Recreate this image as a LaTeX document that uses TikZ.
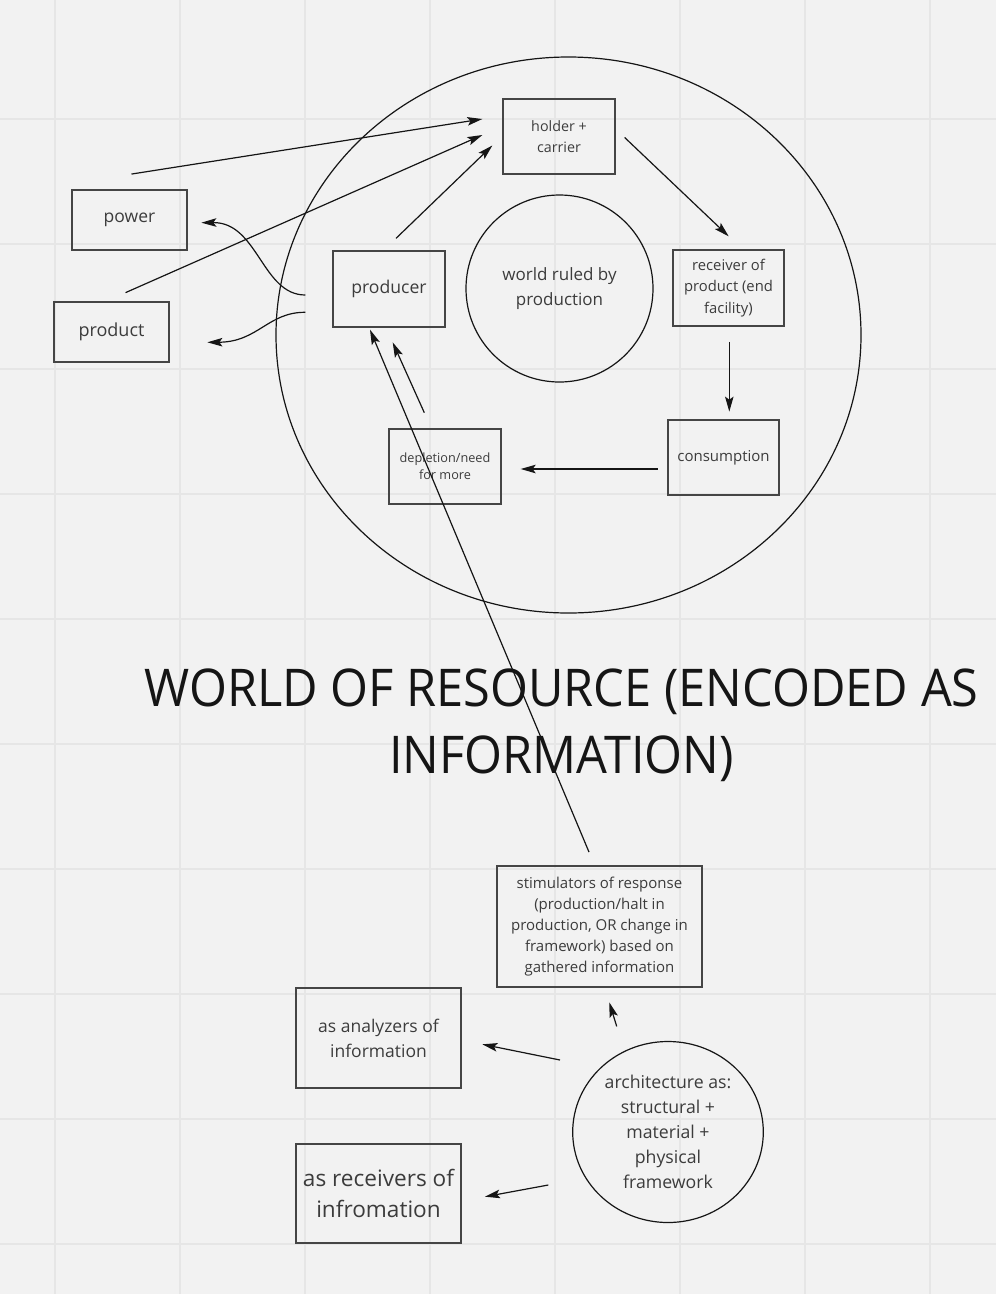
\documentclass[tikz,border=0pt]{standalone}
\usepackage{fontspec}
\setmainfont{Open Sans}
\usetikzlibrary{arrows.meta,shapes.geometric}
\definecolor{bg}{HTML}{F2F2F2}
\definecolor{gridc}{HTML}{E6E6E6}
\definecolor{txt}{HTML}{3C3C3C}
\definecolor{edge}{HTML}{454545}
\definecolor{ink}{HTML}{151515}
\begin{document}
\begin{tikzpicture}[x=1pt,y=-1pt,
  box/.style={draw=edge,line width=1.3pt,inner sep=0pt,align=center,text=txt},
  roundbox/.style={draw=ink,line width=1.2pt,inner sep=0pt,align=center,text=txt,ellipse},
  arr/.style={draw=ink,line width=1.2pt,-{Stealth[length=15pt,width=8.5pt,inset=3pt]}}]
\fill[bg] (0,0) rectangle (996,1294);
\useasboundingbox (0,0) rectangle (996,1294);
\foreach \x in {55,180,...,930} \draw[gridc,line width=1.3pt] (\x,0) -- (\x,1294);
\foreach \y in {119,244,...,1244} \draw[gridc,line width=1.3pt] (0,\y) -- (996,\y);

% big world ellipse and inner circle
\node[roundbox,minimum width=585pt,minimum height=556pt] (world) at (568.5,335) {};
\node[roundbox,minimum width=187pt,minimum height=187pt,font=\fontsize{17}{25}\selectfont] (ruled) at (559.5,288.5) {world ruled by\\production};

% boxes in the cycle
\node[box,minimum width=112pt,minimum height=75pt,font=\fontsize{14.3}{21}\selectfont] (holder) at (559,136.5) {holder +\\carrier};
\node[box,minimum width=111pt,minimum height=76pt,font=\fontsize{14.8}{21.5}\selectfont] (receiver) at (728.5,288) {receiver of\\product (end\\facility)};
\node[box,minimum width=111pt,minimum height=75pt,font=\fontsize{15}{21}\selectfont] (consumption) at (723.5,457.5) {consumption};
\node[box,minimum width=112pt,minimum height=75pt,font=\fontsize{12.7}{17}\selectfont] (depletion) at (445,466.5) {depletion/need\\for more};
\node[box,minimum width=112pt,minimum height=76pt,font=\fontsize{17.6}{24}\selectfont] (producer) at (389,289) {producer};
\node[box,minimum width=115pt,minimum height=60pt,font=\fontsize{17.5}{24}\selectfont] (power) at (129.5,220) {power};
\node[box,minimum width=115pt,minimum height=60pt,font=\fontsize{18}{24}\selectfont] (product) at (111.5,332) {product};

% title
\node[text=ink,align=center,inner sep=0pt,xscale=0.937,transform shape,font=\fontsize{52}{67}\selectfont] (title) at (561.5,725) {WORLD OF RESOURCE (ENCODED AS\\INFORMATION)};

% lower part
\node[box,minimum width=205pt,minimum height=121pt,font=\fontsize{15}{21}\selectfont] (stim) at (599.5,926.5) {stimulators of response\\(production/halt in\\production, OR change in\\framework) based on\\gathered information};
\node[box,minimum width=165pt,minimum height=100pt,font=\fontsize{17.5}{25}\selectfont] (analyzers) at (378.5,1038) {as analyzers of\\information};
\node[box,minimum width=165pt,minimum height=99pt,font=\fontsize{22.6}{31}\selectfont] (receivers) at (378.5,1193.5) {as receivers of\\infromation};
\node[roundbox,minimum width=190.6pt,minimum height=181pt,font=\fontsize{17.7}{25}\selectfont] (arch) at (668,1132) {architecture as:\\structural +\\material +\\physical\\framework};

% connectors
\draw[arr] ([shift={(2,-15.3)}]power.north) -- ([shift={(-20,-17.5)}]holder.west);
\draw[arr] ([shift={(14,-8.7)}]product.north) -- ([shift={(-20,-1.5)}]holder.west);
\draw[arr] ([shift={(7,-12)}]producer.north) -- ([shift={(-10,9)}]holder.west);
\draw[arr] ([shift={(9,1)}]holder.east) -- ([shift={(0.2,-13)}]receiver.north);
\draw[arr] ([shift={(0.8,15.3)}]receiver.south) -- ([shift={(5.8,-7.7)}]consumption.north);
\draw[arr] ([shift={(-9.7,11.5)}]consumption.west) -- ([shift={(19,2.5)}]depletion.east);
\draw[arr] ([shift={(-20.7,-15.7)}]depletion.north) -- ([shift={(3.7,14.7)}]producer.south);
\draw[arr] ([shift={(-10.5,-13.3)}]stim.north) -- ([shift={(-19,2)}]producer.south);
\draw[arr] ([shift={(-27,6)}]producer.west) .. controls (262,295) and (258,222) .. ([shift={(13.7,2.7)}]power.east);
\draw[arr] ([shift={(-27,23.3)}]producer.west) .. controls (268,312) and (258,342) .. ([shift={(37.7,10.3)}]product.east);
\draw[arr] ([shift={(17.2,38.7)}]stim.south) -- ([shift={(9.8,14.7)}]stim.south);
\draw[arr] ([shift={(-108,-72)}]arch.center) -- ([shift={(20.7,6.3)}]analyzers.east);
\draw[arr] ([shift={(-119.7,53)}]arch.center) -- ([shift={(23.3,3.2)}]receivers.east);
\end{tikzpicture}
\end{document}
